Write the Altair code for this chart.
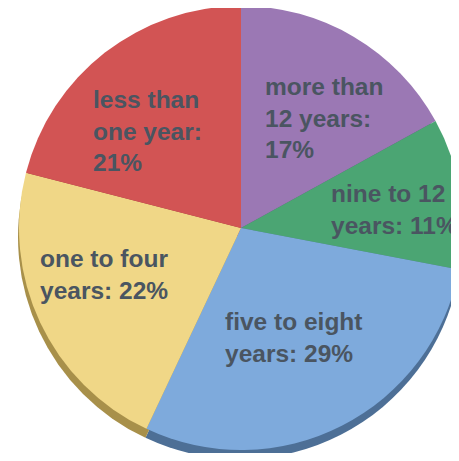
import altair as alt
import pandas as pd

# Data (clockwise from 12 o'clock)
categories = ["more than 12 years", "nine to 12 years", "five to eight years",
              "one to four years", "less than one year"]
shares = [17, 11, 29, 22, 21]
labels = ["more than\n12 years:\n17%", "nine to 12\nyears: 11%", "five to eight\nyears: 29%",
          "one to four\nyears: 22%", "less than\none year:\n21%"]

# Styles
colors = ["#9b78b4", "#4ba573", "#7eaadc", "#f0d787", "#d25454"]
shadow_colors = ["#6e5488", "#357a52", "#4d6f96", "#a8904a", "#9a3c3c"]

# Label layout (left edge / first-line baseline, in chart pixels)
label_x = [257, 323, 217, 32, 85]
label_y = [87, 194, 322, 259, 100]

df = pd.DataFrame({
    "cat": categories,
    "share": shares,
    "order": list(range(len(categories))),
    "label": labels,
    "lx": label_x,
    "ly": label_y,
})

W, H = 443, 445
CX, CY, R = 233, 220, 222

base = alt.Chart(df)

shadow = base.mark_arc(radius=R, stroke=None).encode(
    theta=alt.Theta("share:Q", stack=True),
    order=alt.Order("order:Q"),
    color=alt.Color("cat:N", scale=alt.Scale(domain=categories, range=shadow_colors), legend=None),
    x=alt.value(CX - 1),
    y=alt.value(CY + 9),
)

pie = base.mark_arc(radius=R, stroke=None).encode(
    theta=alt.Theta("share:Q", stack=True),
    order=alt.Order("order:Q"),
    color=alt.Color("cat:N", scale=alt.Scale(domain=categories, range=colors), legend=None),
    x=alt.value(CX),
    y=alt.value(CY),
)

text = base.mark_text(
    align="left", baseline="alphabetic", fontSize=24.5, fontWeight="bold",
    font="Liberation Sans", color="#4a5561", lineBreak="\n", lineHeight=31.5,
).encode(
    x=alt.X("lx:Q", scale=None, axis=None),
    y=alt.Y("ly:Q", scale=None, axis=None),
    text="label:N",
)

chart = alt.layer(shadow, pie, text).resolve_scale(color="independent").properties(
    width=W, height=H, padding=0, autosize=alt.AutoSizeParams(type="none"),
    background="white",
).configure_view(stroke=None)

chart.save("out.html", embed_options={"renderer": "svg", "actions": False})
